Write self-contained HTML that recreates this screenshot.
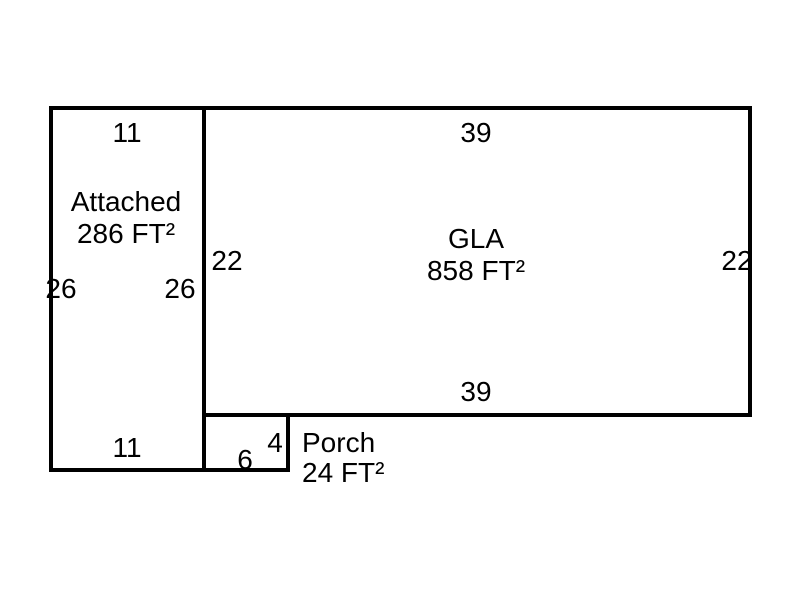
<!DOCTYPE html>
<html><head><style>
body{margin:0;background:#fff;}
svg text{font-family:"Liberation Sans",sans-serif;font-size:28px;fill:#000;}
</style></head><body>
<svg width="800" height="600" xmlns="http://www.w3.org/2000/svg">
<g fill="none" stroke="#000" stroke-width="4">
<path d="M51 108 H750 V415 H204"/>
<rect x="51" y="108" width="153" height="362"/>
<rect x="204" y="415" width="84" height="55"/>
</g>
<g text-anchor="middle">
<text x="127" y="142">11</text>
<text x="127" y="457">11</text>
<text x="476" y="142">39</text>
<text x="476" y="401">39</text>
<text x="126" y="211">Attached</text>
<text x="126" y="243">286 FT²</text>
<text x="476" y="248">GLA</text>
<text x="476" y="280">858 FT²</text>
<text x="61" y="298">26</text>
<text x="180" y="298">26</text>
<text x="227" y="270">22</text>
<text x="737" y="270">22</text>
<text x="245" y="469">6</text>
<text x="275" y="452">4</text>
</g>
<text x="302" y="452">Porch</text>
<text x="302" y="482">24 FT²</text>
</svg>
</body></html>
